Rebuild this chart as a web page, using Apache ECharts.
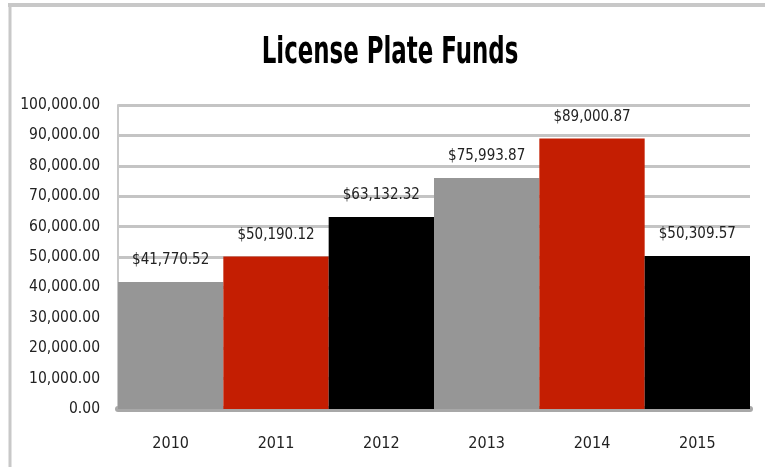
<!DOCTYPE html>
<html>
<head>
<meta charset="utf-8">
<script src="https://cdn.jsdelivr.net/npm/echarts@6/dist/echarts.min.js"></script>
<style>html,body{margin:0;padding:0;background:#fff}#c{width:765px;height:467px}</style>
</head>
<body>
<div id="c"></div>
<script>
var categories = ['2010', '2011', '2012', '2013', '2014', '2015'];
var values = [41770.52, 50190.12, 63132.32, 75993.87, 89000.87, 50309.57];
var barColors = ['#969696', '#c41e02', '#000000', '#969696', '#c41e02', '#000000'];
var titleText = 'License Plate Funds';

var FONT = '"DejaVu Sans Condensed", "Liberation Sans Narrow", "Open Sans", sans-serif';
function fmt(v) {
  return Number(v).toLocaleString('en-US', {minimumFractionDigits: 2, maximumFractionDigits: 2});
}
var chart = echarts.init(document.getElementById('c'));
chart.setOption({
  animation: false,
  backgroundColor: '#fff',
  graphic: [
    {type: 'line', shape: {x1: 8, y1: 5, x2: 765, y2: 5}, style: {stroke: '#c8c8c8', lineWidth: 4}},
    {type: 'line', shape: {x1: 10, y1: 5, x2: 10, y2: 467}, style: {stroke: '#c8c8c8', lineWidth: 3}},
    {
      type: 'text',
      x: 390, y: 53,
      scaleX: 0.67,
      style: {
        text: titleText, x: 0, y: 0,
        align: 'center', verticalAlign: 'middle',
        fontFamily: FONT, fontSize: 38, fontWeight: 'bold', fill: '#000'
      }
    }
  ],
  grid: {left: 118, right: 15, top: 105, bottom: 58},
  xAxis: {
    type: 'category',
    data: categories,
    offset: 3,
    axisLine: {show: true, lineStyle: {color: '#a8a8a8', width: 6}},
    axisTick: {show: false},
    axisLabel: {fontFamily: FONT, fontSize: 16, color: '#222', margin: 24}
  },
  yAxis: {
    type: 'value',
    min: 0,
    max: 100000,
    interval: 10000,
    axisLine: {show: true, lineStyle: {color: '#c8c8c8', width: 2}},
    axisTick: {show: false},
    splitLine: {lineStyle: {color: '#c4c4c4', width: 3}},
    axisLabel: {fontFamily: FONT, fontSize: 15.5, color: '#222', margin: 18, formatter: fmt}
  },
  series: [{
    type: 'bar',
    barCategoryGap: '0%',
    data: values.map(function (v, i) { return {value: v, itemStyle: {color: barColors[i]}}; }),
    label: {
      show: true,
      position: 'top',
      distance: 14,
      fontFamily: FONT,
      fontSize: 15,
      color: '#222',
      formatter: function (p) { return '$' + fmt(p.value); }
    }
  }]
});
</script>
</body>
</html>
